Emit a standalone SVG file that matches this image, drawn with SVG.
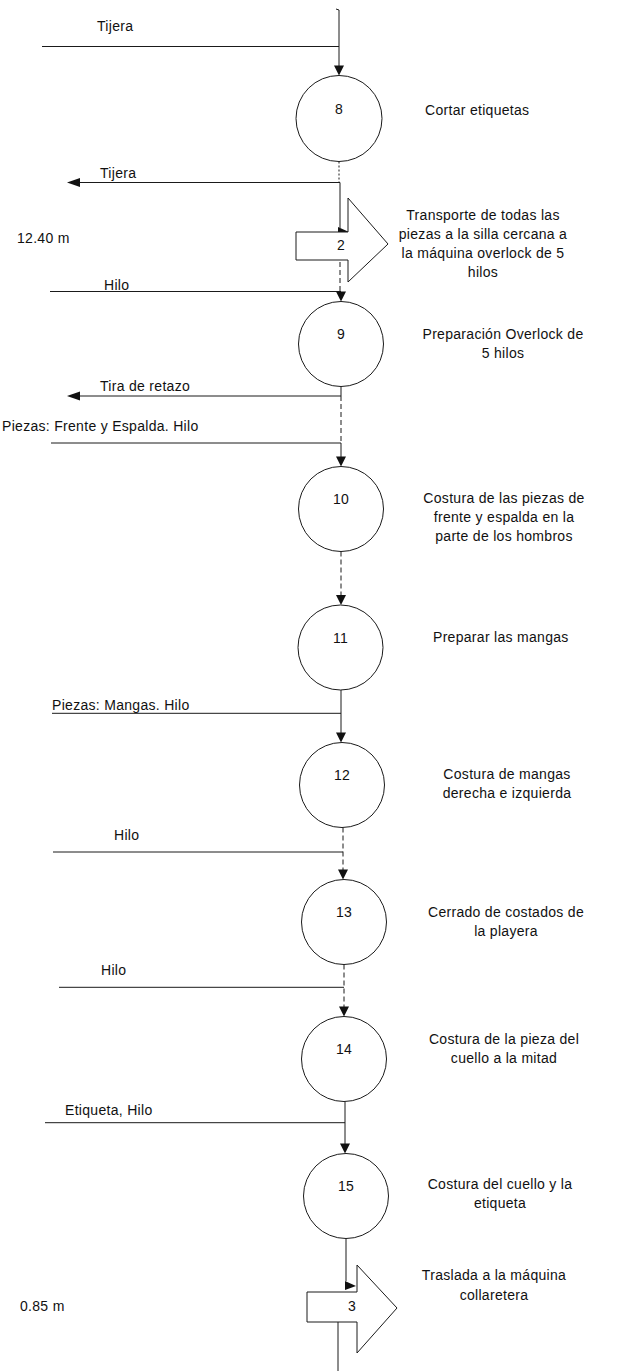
<svg xmlns="http://www.w3.org/2000/svg" width="618" height="1371" viewBox="0 0 618 1371">
  <style>
    .ln { stroke: #1a1a1a; stroke-width: 1; fill: none; }
    .dash { stroke-dasharray: 5 3; }
    .dot { stroke-dasharray: 2 2; }
    .op { fill: #fff; stroke: #1a1a1a; stroke-width: 1; }
    .ah { fill: #111; }
    text { font-family: "Liberation Sans", Arial, sans-serif; font-size: 14px; letter-spacing: 0.3px; fill: #111; }
    .c { text-anchor: middle; }
  </style>
  <defs>
    <!-- arrowhead pointing down, tip at origin -->
    <path id="ahDown" d="M-5,-10 L5,-10 L0,0 Z"/>
    <!-- arrowhead pointing left, tip at origin -->
    <path id="ahLeft" d="M0,0 L13,-4.5 L13,4.5 Z"/>
    <!-- small flag-shaped head where the flow enters a transport arrow -->
    <path id="ahFlag" d="M0,0 L11,5 L0,9 Z"/>
  </defs>

  <rect x="0" y="0" width="618" height="1371" fill="#fff"/>

  <!-- flow lines, inputs and outputs -->
  <g id="connectors">
    <path class="ln" d="M336,9 L339,10 V66"/>
    <path class="ln" d="M42,46.5 H339"/>
    <use href="#ahDown" class="ah" x="339" y="75.5"/>

    <path class="ln dot" d="M339,161.5 V182.5"/>
    <path class="ln" d="M79,182.5 H340 V228"/>
    <use href="#ahLeft" class="ah" x="67" y="182.5"/>
    <use href="#ahFlag" class="ah" x="338" y="227"/>

    <path class="ln dash" d="M340,262 V291.5"/>
    <path class="ln" d="M50,291.5 H341"/>
    <use href="#ahDown" class="ah" x="341" y="301.5"/>

    <path class="ln" d="M341,386.5 V396"/>
    <path class="ln" d="M79,396 H341"/>
    <use href="#ahLeft" class="ah" x="67" y="396"/>
    <path class="ln dash" d="M341,396 V443"/>
    <path class="ln" d="M51,443 H341 V457"/>
    <use href="#ahDown" class="ah" x="341" y="466.5"/>

    <path class="ln dash" d="M341,551.5 V596"/>
    <use href="#ahDown" class="ah" x="341" y="605"/>

    <path class="ln" d="M341,690 V733"/>
    <path class="ln" d="M52,713.3 H341"/>
    <use href="#ahDown" class="ah" x="341" y="742.5"/>

    <path class="ln dash" d="M343,827.5 V870"/>
    <path class="ln" d="M53,852 H343"/>
    <use href="#ahDown" class="ah" x="343" y="879.5"/>

    <path class="ln dash" d="M344,964.5 V1007"/>
    <path class="ln" d="M59,987.3 H344"/>
    <use href="#ahDown" class="ah" x="344" y="1016.5"/>

    <path class="ln" d="M345,1101.5 V1144"/>
    <path class="ln" d="M45,1122.7 H345"/>
    <use href="#ahDown" class="ah" x="345" y="1153.5"/>

    <path class="ln" d="M346,1238.5 V1281"/>
    <use href="#ahFlag" class="ah" x="345" y="1281"/>
    <path class="ln" d="M338,1322 V1371"/>
  </g>

  <!-- operations -->
  <g id="op8">
    <circle class="op" cx="339" cy="118.5" r="43"/>
    <text class="c" x="339" y="113.5">8</text>
    <text x="425" y="115">Cortar etiquetas</text>
  </g>

  <g id="transport2">
    <path class="op" d="M296,232 H348 V198 L388,244 L348,282 V260 H296 Z"/>
    <text class="c" x="341" y="250">2</text>
    <text x="17" y="243">12.40 m</text>
    <text class="c" x="483" y="220">Transporte de todas las</text>
    <text class="c" x="483" y="239">piezas a la silla cercana a</text>
    <text class="c" x="483" y="258">la máquina overlock de 5</text>
    <text class="c" x="483" y="277">hilos</text>
  </g>

  <g id="op9">
    <circle class="op" cx="341" cy="344" r="42.5"/>
    <text class="c" x="341" y="339">9</text>
    <text class="c" x="503" y="339">Preparación Overlock de</text>
    <text class="c" x="503" y="358">5 hilos</text>
  </g>

  <g id="op10">
    <circle class="op" cx="341" cy="509" r="42.5"/>
    <text class="c" x="341" y="504">10</text>
    <text class="c" x="504" y="503">Costura de las piezas de</text>
    <text class="c" x="504" y="522">frente y espalda en la</text>
    <text class="c" x="504" y="541">parte de los hombros</text>
  </g>

  <g id="op11">
    <circle class="op" cx="340.5" cy="647.5" r="42.5"/>
    <text class="c" x="340.5" y="642.5">11</text>
    <text x="433" y="642">Preparar las mangas</text>
  </g>

  <g id="op12">
    <circle class="op" cx="342" cy="785" r="42.5"/>
    <text class="c" x="342" y="780">12</text>
    <text class="c" x="507" y="779">Costura de mangas</text>
    <text class="c" x="507" y="798">derecha e izquierda</text>
  </g>

  <g id="op13">
    <circle class="op" cx="344" cy="922" r="42.5"/>
    <text class="c" x="344" y="917">13</text>
    <text class="c" x="506" y="917">Cerrado de costados de</text>
    <text class="c" x="506" y="936">la playera</text>
  </g>

  <g id="op14">
    <circle class="op" cx="344" cy="1059" r="42.5"/>
    <text class="c" x="344" y="1054">14</text>
    <text class="c" x="504" y="1044">Costura de la pieza del</text>
    <text class="c" x="504" y="1063">cuello a la mitad</text>
  </g>

  <g id="op15">
    <circle class="op" cx="346" cy="1196" r="42.5"/>
    <text class="c" x="346" y="1191">15</text>
    <text class="c" x="500" y="1189">Costura del cuello y la</text>
    <text class="c" x="500" y="1208">etiqueta</text>
  </g>

  <g id="transport3">
    <path class="op" d="M307,1292 H357 V1265 L397,1308 L357,1353 V1322 H307 Z"/>
    <text class="c" x="352" y="1311">3</text>
    <text x="20" y="1311">0.85 m</text>
    <text class="c" x="494" y="1280">Traslada a la máquina</text>
    <text class="c" x="494" y="1300">collaretera</text>
  </g>

  <!-- material labels on the side lines -->
  <g id="labels">
    <text x="97" y="31">Tijera</text>
    <text x="100" y="178">Tijera</text>
    <text x="104" y="290">Hilo</text>
    <text x="100" y="391">Tira de retazo</text>
    <text x="2" y="431">Piezas: Frente y Espalda. Hilo</text>
    <text x="52" y="710">Piezas: Mangas. Hilo</text>
    <text x="114" y="840">Hilo</text>
    <text x="101" y="975">Hilo</text>
    <text x="65" y="1115">Etiqueta, Hilo</text>
  </g>
</svg>
